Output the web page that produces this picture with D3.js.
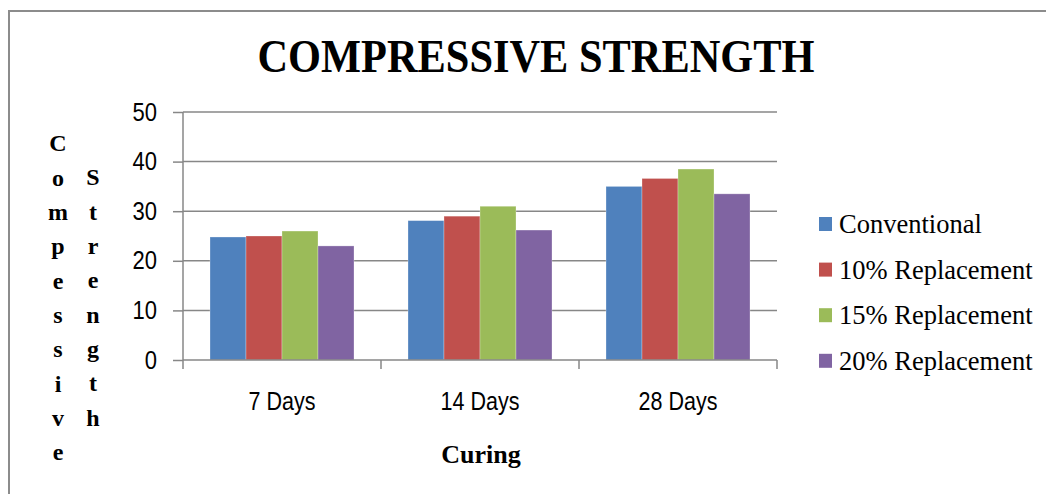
<!DOCTYPE html>
<html>
<head>
<meta charset="utf-8">
<script src="https://cdn.jsdelivr.net/npm/d3@7/dist/d3.min.js"></script>
<style>
  body { margin: 0; background: #fff; }
  svg { display: block; }
</style>
</head>
<body>
<div id="chart"></div>
<script>
var categories = ["7 Days", "14 Days", "28 Days"];
var seriesNames = ["Conventional", "10% Replacement", "15% Replacement", "20% Replacement"];
var conventional = [24.8, 28.1, 35.0];
var rep10 = [25.0, 29.0, 36.6];
var rep15 = [26.0, 31.0, 38.5];
var rep20 = [23.0, 26.2, 33.5];
var yTicks = [0, 10, 20, 30, 40, 50];
var colors = ["#4f81bd", "#c0504d", "#9bbb59", "#8064a2"];

var seriesValues = [conventional, rep10, rep15, rep20];

var W = 1046, H = 494;
var margin = {top: 112, left: 183, right: 269, bottom: 134};
var width = W - margin.left - margin.right,
    height = H - margin.top - margin.bottom;
var serif = "'Liberation Serif', 'Times New Roman', serif";
var sans = "'Liberation Sans', Arial, sans-serif";

var svg = d3.select("#chart").append("svg")
    .attr("width", W).attr("height", H);

// squeeze a text to a share of its natural width (narrow fonts are not installed)
function narrow(sel, k) {
    sel.each(function(){
        var len = this.getComputedTextLength();
        d3.select(this).attr("textLength", len * k).attr("lengthAdjust", "spacingAndGlyphs");
    });
}

// outer frame
svg.append("path")
    .attr("d", "M9,494 V11 H1046")
    .attr("fill", "none")
    .attr("stroke", "#8c8c8c")
    .attr("stroke-width", 2);

svg.append("text")
    .attr("x", 536).attr("y", 72)
    .attr("text-anchor", "middle")
    .style("font-family", serif)
    .style("font-weight", "bold")
    .style("font-size", "47px")
    .text("COMPRESSIVE STRENGTH")
    .attr("textLength", 557)
    .attr("lengthAdjust", "spacingAndGlyphs");

var g = svg.append("g")
    .attr("transform", "translate(" + margin.left + "," + margin.top + ")");

var x0 = d3.scaleBand().domain(categories).range([0, width]);
// Excel gap width 150%: 0.75 bar width on each side of a group
var x1 = d3.scaleBand().domain(d3.range(seriesNames.length))
    .range([0, x0.bandwidth()]).paddingInner(0).paddingOuter(0.75);

var y = d3.scaleLinear().domain([0, 50]).range([height, 0]);

// gridlines
g.append("g").selectAll("line")
    .data(yTicks.filter(function(d){ return d > 0; }))
    .enter().append("line")
    .attr("x1", 0).attr("x2", width)
    .attr("y1", function(d){ return y(d); })
    .attr("y2", function(d){ return y(d); })
    .attr("stroke", "#878787")
    .attr("stroke-width", 1.5);

// bars
var groups = g.append("g").selectAll("g")
    .data(categories)
    .enter().append("g")
    .attr("transform", function(d){ return "translate(" + x0(d) + ",0)"; });

groups.selectAll("rect")
    .data(function(c, ci){ return seriesValues.map(function(s, si){ return {si: si, v: s[ci]}; }); })
    .enter().append("rect")
    .attr("x", function(d){ return x1(d.si); })
    .attr("width", x1.bandwidth())
    .attr("y", function(d){ return y(d.v); })
    .attr("height", function(d){ return y(0) - y(d.v); })
    .attr("fill", function(d){ return colors[d.si]; })
    .attr("stroke", "#fff")
    .attr("stroke-opacity", 0.35)
    .attr("stroke-width", 0.8);

// y axis
var yAxis = g.append("g")
    .call(d3.axisLeft(y).tickValues(yTicks).tickSize(10).tickPadding(16));
yAxis.select(".domain").attr("stroke", "#878787").attr("stroke-width", 1.5)
    .attr("d", "M0,0 V" + height);
yAxis.selectAll(".tick line").attr("stroke", "#878787").attr("stroke-width", 1.5);
yAxis.selectAll(".tick text")
    .style("font-family", sans)
    .style("font-size", "25px")
    .attr("fill", "#000")
    .call(narrow, 0.88);

// x axis
var xAxis = g.append("g")
    .attr("transform", "translate(0," + height + ")")
    .call(d3.axisBottom(x0).tickSize(0).tickPadding(32));
xAxis.select(".domain").attr("stroke", "#878787").attr("stroke-width", 1.5)
    .attr("d", "M0,0 H" + width);
xAxis.selectAll(".tick text")
    .style("font-family", sans)
    .style("font-size", "25px")
    .attr("fill", "#000")
    .call(narrow, 0.86);
// category boundary ticks
xAxis.append("g").selectAll("line")
    .data(d3.range(categories.length + 1))
    .enter().append("line")
    .attr("x1", function(i){ return i * x0.bandwidth(); })
    .attr("x2", function(i){ return i * x0.bandwidth(); })
    .attr("y1", 0).attr("y2", 9)
    .attr("stroke", "#878787").attr("stroke-width", 1.5);

// axis titles
svg.append("text")
    .attr("x", 481).attr("y", 463)
    .attr("text-anchor", "middle")
    .style("font-family", serif)
    .style("font-weight", "bold")
    .style("font-size", "26px")
    .text("Curing");

// vertical title, one letter per line, two columns (spelling as in the original)
var titleCols = [{word: "Compessive", x: 58, y0: 143}, {word: "Strength", x: 93, y0: 177}];
titleCols.forEach(function(col){
    svg.append("g").selectAll("text")
        .data(col.word.split(""))
        .enter().append("text")
        .attr("x", col.x)
        .attr("y", function(d, i){ return col.y0 + i * 34.3; })
        .attr("dy", "0.35em")
        .attr("text-anchor", "middle")
        .style("font-family", serif)
        .style("font-weight", "bold")
        .style("font-size", "24px")
        .text(function(d){ return d; });
});

// legend
var legend = svg.append("g").selectAll("g")
    .data(seriesNames)
    .enter().append("g")
    .attr("transform", function(d, i){ return "translate(819," + (224 + i * 45.6) + ")"; });
legend.append("rect")
    .attr("x", 0).attr("y", -7)
    .attr("width", 13).attr("height", 14)
    .attr("fill", function(d, i){ return colors[i]; });
legend.append("text")
    .attr("x", 20).attr("dy", "0.35em")
    .style("font-family", serif)
    .style("font-size", "26.5px")
    .text(function(d){ return d; });
</script>
</body>
</html>
